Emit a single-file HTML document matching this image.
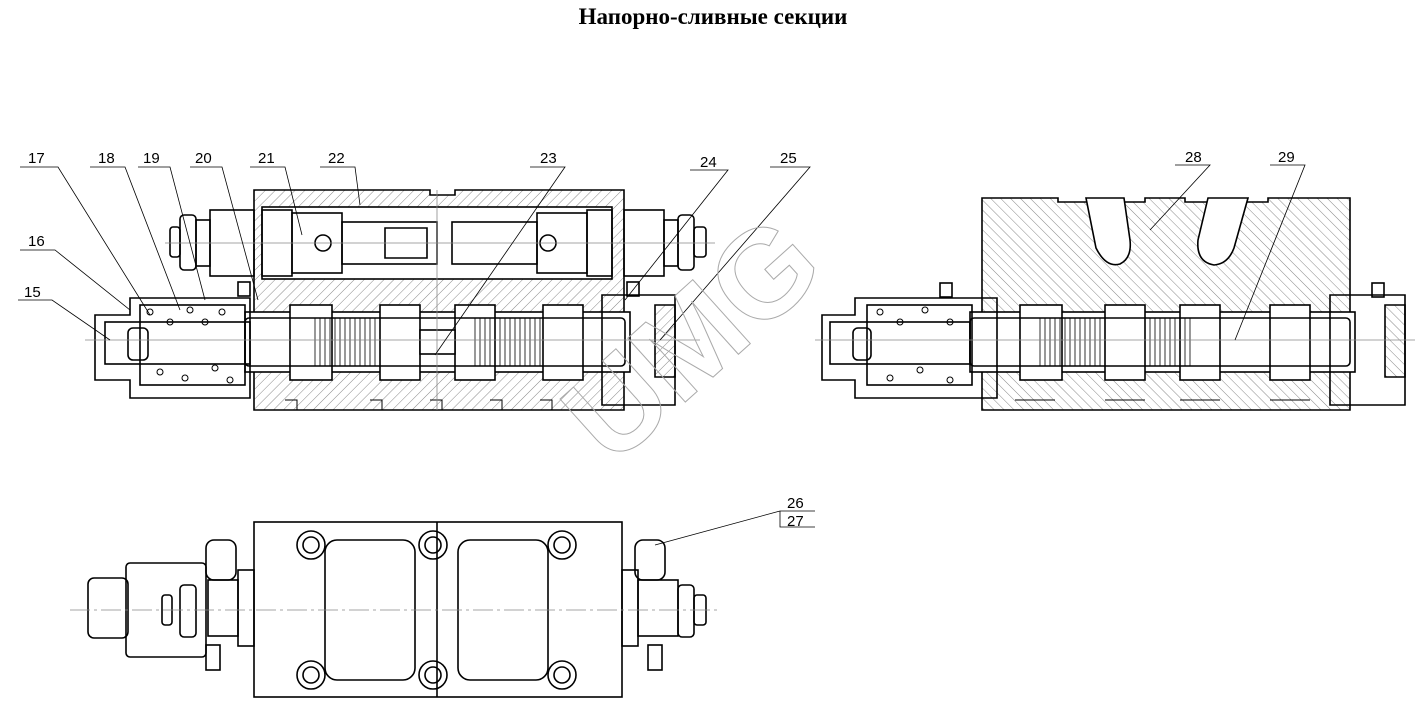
<!DOCTYPE html>
<html><head><meta charset="utf-8"><style>
html,body{margin:0;padding:0;background:#fff;}
svg{display:block}
text{font-family:"Liberation Sans",sans-serif;}
</style></head><body>
<svg width="1417" height="713" viewBox="0 0 1417 713" xmlns="http://www.w3.org/2000/svg">
<defs>
<pattern id="h" patternUnits="userSpaceOnUse" width="7" height="7" patternTransform="rotate(45)">
<line x1="0" y1="0" x2="0" y2="7" stroke="#555" stroke-width="0.7"/>
</pattern>
<pattern id="h2" patternUnits="userSpaceOnUse" width="7" height="7" patternTransform="rotate(-45)">
<line x1="0" y1="0" x2="0" y2="7" stroke="#555" stroke-width="0.7"/>
</pattern>
</defs>
<text x="713" y="24" text-anchor="middle" font-weight="bold" font-size="23" style="font-family:'Liberation Serif',serif">Напорно-сливные секции</text>

<g fill="none" stroke="#000" stroke-width="1.6">
<path d="M254 190 H430 V195 H455 V190 H624 V410 H254 Z" fill="url(#h)"/>
<rect x="262" y="207" width="350" height="72" fill="#fff"/>
<rect x="262" y="210" width="30" height="66"/><rect x="292" y="213" width="50" height="60"/>
<rect x="342" y="222" width="95" height="42"/><circle cx="323" cy="243" r="8"/>
<rect x="452" y="222" width="85" height="42"/><rect x="537" y="213" width="50" height="60"/>
<rect x="587" y="210" width="25" height="66"/><circle cx="548" cy="243" r="8"/>
<path d="M385 228 h42 v30 h-42 z"/>
<rect x="245" y="312" width="385" height="60" fill="#fff"/>
<rect x="290" y="305" width="42" height="75" fill="#fff"/><rect x="380" y="305" width="40" height="75" fill="#fff"/>
<rect x="455" y="305" width="40" height="75" fill="#fff"/><rect x="543" y="305" width="40" height="75" fill="#fff"/>
<rect x="245" y="318" width="380" height="48" rx="4"/>
<rect x="420" y="330" width="35" height="24" fill="#fff"/>
<g stroke-width="0.8"><path d="M315 318 v48 M320 318 v48 M325 318 v48 M330 318 v48 M335 318 v48 M340 318 v48 M345 318 v48 M350 318 v48 M355 318 v48 M360 318 v48 M365 318 v48 M370 318 v48 M375 318 v48 M475 318 v48 M480 318 v48 M485 318 v48 M490 318 v48 M495 318 v48 M500 318 v48 M505 318 v48 M510 318 v48 M515 318 v48 M520 318 v48 M525 318 v48 M530 318 v48 M535 318 v48 M540 318 v48"/></g>
<path d="M95 315 H130 V298 H250 V398 H130 V380 H95 Z"/>
<rect x="140" y="305" width="105" height="80"/>
<rect x="105" y="322" width="145" height="42"/>
<rect x="128" y="328" width="20" height="32" rx="5"/>
<g stroke-width="1"><circle cx="150" cy="312" r="3"/><circle cx="170" cy="322" r="3"/><circle cx="190" cy="310" r="3"/><circle cx="205" cy="322" r="3"/><circle cx="222" cy="312" r="3"/><circle cx="160" cy="372" r="3"/><circle cx="185" cy="378" r="3"/><circle cx="215" cy="368" r="3"/><circle cx="230" cy="380" r="3"/></g>
<path d="M602 295 H675 V405 H602 Z"/>
<path d="M655 305 h20 v72 h-20 z" fill="url(#h)"/>
<rect x="238" y="282" width="12" height="14"/><rect x="627" y="282" width="12" height="14"/>
<rect x="210" y="210" width="44" height="66"/><rect x="196" y="220" width="14" height="46"/>
<rect x="180" y="215" width="16" height="55" rx="4"/><rect x="170" y="227" width="10" height="30" rx="3"/>
<rect x="624" y="210" width="40" height="66"/><rect x="664" y="220" width="14" height="46"/>
<rect x="678" y="215" width="16" height="55" rx="4"/><rect x="694" y="227" width="12" height="30" rx="3"/>
<path d="M285 400 h12 v10 M370 400 h12 v10 M430 400 h12 v10 M490 400 h12 v10 M540 400 h12 v10" stroke-width="1"/>
</g>
<g stroke="#888" stroke-width="0.8">
<line x1="85" y1="340" x2="700" y2="340"/><line x1="165" y1="243" x2="715" y2="243"/>
<line x1="437" y1="190" x2="437" y2="410"/>
</g>

<g fill="none" stroke="#000" stroke-width="1.6">
<path d="M982 198 H1058 V202 H1145 V198 H1185 V202 H1268 V198 H1350 V410 H982 Z" fill="url(#h2)"/>
<path d="M1086 198 L1096 248 Q1106 268 1120 264 Q1132 258 1130 240 L1124 198 Z" fill="#fff"/>
<path d="M1208 198 L1198 240 Q1196 262 1214 265 Q1228 264 1234 248 L1248 198 Z" fill="#fff"/>
<rect x="970" y="312" width="385" height="60" fill="#fff"/>
<rect x="1020" y="305" width="42" height="75" fill="#fff"/><rect x="1105" y="305" width="40" height="75" fill="#fff"/>
<rect x="1180" y="305" width="40" height="75" fill="#fff"/><rect x="1270" y="305" width="40" height="75" fill="#fff"/>
<rect x="970" y="318" width="380" height="48" rx="4"/>
<g stroke-width="0.8"><path d="M1040 318 v48 M1045 318 v48 M1050 318 v48 M1055 318 v48 M1060 318 v48 M1065 318 v48 M1070 318 v48 M1075 318 v48 M1080 318 v48 M1085 318 v48 M1090 318 v48 M1095 318 v48 M1100 318 v48 M1150 318 v48 M1155 318 v48 M1160 318 v48 M1165 318 v48 M1170 318 v48 M1175 318 v48 M1180 318 v48 M1185 318 v48 M1190 318 v48"/></g>
<path d="M822 315 H855 V298 H997 V398 H855 V380 H822 Z"/>
<rect x="867" y="305" width="105" height="80"/><rect x="830" y="322" width="140" height="42"/>
<rect x="853" y="328" width="18" height="32" rx="5"/>
<g stroke-width="1"><circle cx="880" cy="312" r="3"/><circle cx="900" cy="322" r="3"/><circle cx="925" cy="310" r="3"/><circle cx="950" cy="322" r="3"/><circle cx="890" cy="378" r="3"/><circle cx="920" cy="370" r="3"/><circle cx="950" cy="380" r="3"/></g>
<path d="M1330 295 H1405 V405 H1330 Z"/><path d="M1385 305 h20 v72 h-20 z" fill="url(#h2)"/>
<rect x="940" y="283" width="12" height="14"/><rect x="1372" y="283" width="12" height="14"/>
<path d="M1015 400 h40 M1105 400 h40 M1180 400 h40 M1270 400 h40" stroke-width="1"/>
</g>
<line x1="815" y1="340" x2="1415" y2="340" stroke="#888" stroke-width="0.8"/>

<g fill="none" stroke="#000" stroke-width="1.6">
<rect x="254" y="522" width="368" height="175"/>
<rect x="325" y="540" width="90" height="140" rx="12"/><rect x="458" y="540" width="90" height="140" rx="12"/>
<line x1="437" y1="522" x2="437" y2="697"/>
<circle cx="311" cy="545" r="14"/><circle cx="311" cy="545" r="8"/>
<circle cx="433" cy="545" r="14"/><circle cx="433" cy="545" r="8"/>
<circle cx="562" cy="545" r="14"/><circle cx="562" cy="545" r="8"/>
<circle cx="311" cy="675" r="14"/><circle cx="311" cy="675" r="8"/>
<circle cx="433" cy="675" r="14"/><circle cx="433" cy="675" r="8"/>
<circle cx="562" cy="675" r="14"/><circle cx="562" cy="675" r="8"/>
<rect x="126" y="563" width="80" height="94" rx="4"/>
<rect x="88" y="578" width="40" height="60" rx="6"/>
<rect x="238" y="570" width="16" height="76"/><rect x="208" y="580" width="30" height="56"/>
<rect x="180" y="585" width="16" height="52" rx="4"/><rect x="162" y="595" width="10" height="30" rx="3"/>
<rect x="206" y="540" width="30" height="40" rx="8"/><rect x="206" y="645" width="14" height="25"/>
<rect x="622" y="570" width="16" height="76"/><rect x="638" y="580" width="40" height="56"/>
<rect x="678" y="585" width="16" height="52" rx="4"/><rect x="694" y="595" width="12" height="30" rx="3"/>
<rect x="635" y="540" width="30" height="40" rx="8"/><rect x="648" y="645" width="14" height="25"/>
</g>
<line x1="70" y1="610" x2="720" y2="610" stroke="#888" stroke-width="0.8" stroke-dasharray="20 4 3 4"/>

<g font-size="15" fill="#000">
<text x="28" y="163">17</text><text x="98" y="163">18</text><text x="143" y="163">19</text><text x="195" y="163">20</text>
<text x="258" y="163">21</text><text x="328" y="163">22</text><text x="540" y="163">23</text><text x="700" y="167">24</text>
<text x="780" y="163">25</text><text x="28" y="246">16</text><text x="24" y="297">15</text>
<text x="1185" y="162">28</text><text x="1278" y="162">29</text>
<text x="787" y="508">26</text><text x="787" y="526">27</text>
</g>
<g stroke="#000" stroke-width="0.8" fill="none">
<path d="M20 167 H58 L150 315"/><path d="M90 167 H125 L180 310"/><path d="M138 167 H170 L205 300"/><path d="M190 167 H222 L258 300"/>
<path d="M250 167 H285 L302 235"/><path d="M320 167 H355 L360 205"/><path d="M530 167 H565 L435 355"/><path d="M690 170 H728 L625 300"/>
<path d="M770 167 H810 L660 340"/><path d="M20 250 H55 L130 310"/><path d="M18 300 H52 L110 340"/>
<path d="M1175 165 H1210 L1150 230"/><path d="M1270 165 H1305 L1235 340"/>
<path d="M780 511 H815 M780 511 V527 H815"/><path d="M780 511 L655 545"/>
</g>
<text x="0" y="0" transform="translate(612 468) rotate(-42)" font-size="125" font-weight="bold" fill="none" stroke="#aaa" stroke-width="1">UMG</text>
</svg>
</body></html>
